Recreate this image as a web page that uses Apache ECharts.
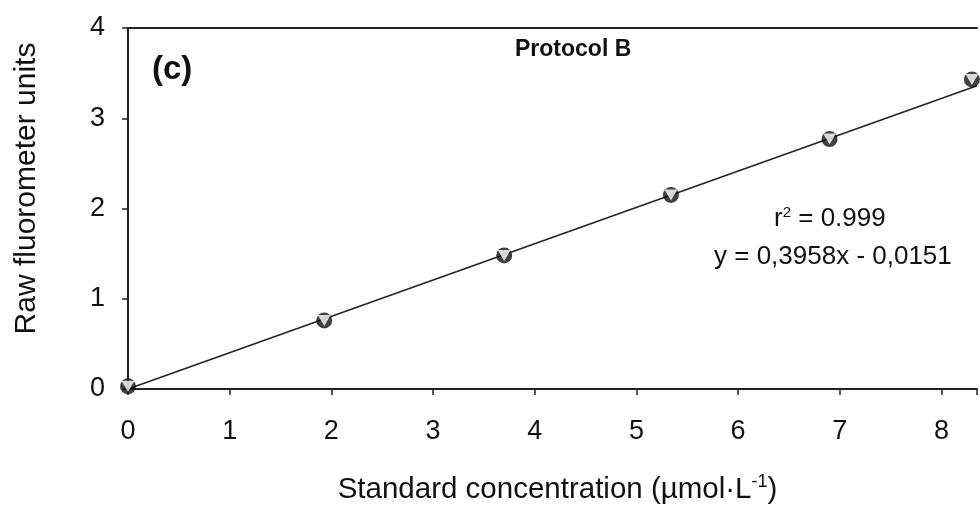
<!DOCTYPE html>
<html>
<head>
<meta charset="utf-8">
<script src="https://cdn.jsdelivr.net/npm/echarts@6/dist/echarts.min.js"></script>
<style>html,body{margin:0;padding:0;background:#fff}#c{width:980px;height:510px}</style>
</head>
<body>
<div id="c"></div>
<script>
// Data
const concentration = [0, 1.93, 3.70, 5.34, 6.90, 8.30];
const fluorescence = [0.03, 0.76, 1.48, 2.15, 2.77, 3.43];
const fitLineX = [0, 8.35];
const fitLineY = [0.0, 3.36];
const xTicks = [0, 1, 2, 3, 4, 5, 6, 7, 8];
const yTicks = [0, 1, 2, 3, 4];
const panelLabel = '(c)';
const panelTitle = 'Protocol B';
const r2Text = '0.999';
const eqText = 'y = 0,3958x - 0,0151';

const pts = concentration.map((x, i) => [x, fluorescence[i]]);
const fit = fitLineX.map((x, i) => [x, fitLineY[i]]);
const FONT = '"Liberation Sans", Arial, sans-serif';

const chart = echarts.init(document.getElementById('c'), null, {renderer: 'canvas'});
chart.setOption({
  animation: false,
  backgroundColor: '#fff',
  grid: {left: 128, right: 0, top: 28, bottom: 121, containLabel: false},
  xAxis: [{
    type: 'value', min: 0, max: 8.35, interval: 1,
    axisLine: {show: true, lineStyle: {color: '#222', width: 2}},
    axisTick: {show: true, length: 6, lineStyle: {color: '#222', width: 1.5}},
    axisLabel: {color: '#111', fontSize: 27, fontFamily: FONT, margin: 29,
      formatter: v => (xTicks.includes(v) ? String(v) : '')},
    splitLine: {show: false},
    name: '{t|Standard concentration (µmol·L}{s|-1}{t|)}',
    nameLocation: 'middle', nameGap: 84,
    nameTextStyle: {padding: [0, 0, 0, 10], rich: {
      t: {fontSize: 29.5, fontFamily: FONT, color: '#111'},
      s: {fontSize: 18, fontFamily: FONT, color: '#111', verticalAlign: 'top', padding: [0, 0, 15, 0]}
    }}
  }, {
    type: 'value', position: 'top', min: 0, max: 8.35,
    axisLine: {show: true, lineStyle: {color: '#222', width: 2}},
    axisTick: {show: false}, axisLabel: {show: false}, splitLine: {show: false}
  }],
  yAxis: {
    type: 'value', min: 0, max: 4, interval: 1,
    axisLine: {show: true, lineStyle: {color: '#222', width: 2}},
    axisTick: {show: true, length: 6, lineStyle: {color: '#222', width: 1.5}},
    axisLabel: {color: '#111', fontSize: 27, fontFamily: FONT, margin: 23,
      formatter: v => (yTicks.includes(v) ? String(v) : '')},
    splitLine: {show: false},
    name: 'Raw fluorometer units', nameLocation: 'middle', nameGap: 86,
    nameTextStyle: {fontSize: 30, fontFamily: FONT, color: '#111', padding: [0, 0, 0, 40]}
  },
  series: [{
    type: 'line', data: fit, symbol: 'none', silent: true,
    lineStyle: {color: '#222', width: 1.5}, z: 2
  }, {
    type: 'scatter', data: pts, symbol: 'circle', symbolSize: 16,
    itemStyle: {color: '#111'}, z: 3
  }, {
    type: 'scatter', data: pts, symbol: 'triangle', symbolRotate: 180, symbolSize: [13, 11],
    itemStyle: {color: '#fff'}, z: 4
  }],
  graphic: [
    {type: 'text', left: 152, top: 53, style: {text: panelLabel, font: 'bold 33px ' + FONT, fill: '#111'}},
    {type: 'text', left: 515, top: 38, style: {text: panelTitle, font: 'bold 23px ' + FONT, fill: '#111'}},
    {type: 'text', left: 774, top: 205, style: {
      text: '{a|r}{b|2}{a| = ' + r2Text + '}',
      rich: {a: {fontSize: 26, fontFamily: FONT, fill: '#111'},
             b: {fontSize: 15, fontFamily: FONT, fill: '#111', verticalAlign: 'top', padding: [0, 0, 12, 0]}}
    }},
    {type: 'text', left: 714, top: 244, style: {text: eqText, font: '26px ' + FONT, fill: '#111'}}
  ]
});
</script>
</body>
</html>
